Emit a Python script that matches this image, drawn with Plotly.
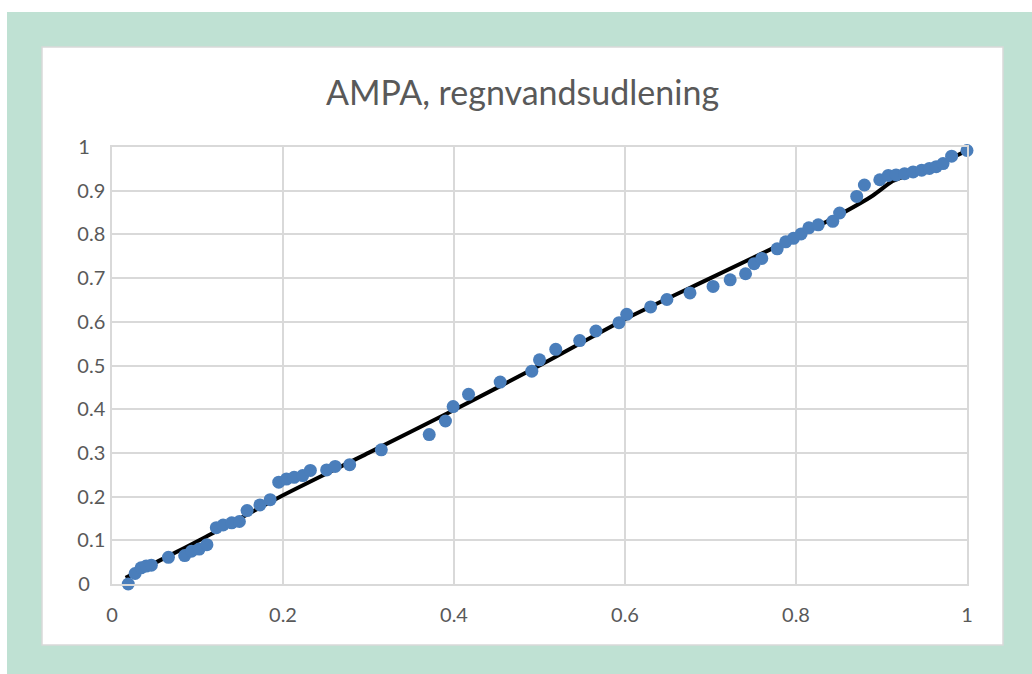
import plotly.graph_objects as go

# Empirical vs. fitted probability values (P-P plot)
observed_x = [0.019, 0.027, 0.034, 0.040, 0.046, 0.066, 0.085, 0.093, 0.102, 0.111,
              0.122, 0.130, 0.140, 0.149, 0.158, 0.173, 0.185, 0.195, 0.204, 0.213,
              0.223, 0.232, 0.251, 0.261, 0.278, 0.315, 0.371, 0.390, 0.399, 0.417,
              0.454, 0.491, 0.500, 0.519, 0.547, 0.566, 0.593, 0.602, 0.630, 0.649,
              0.676, 0.703, 0.723, 0.741, 0.751, 0.760, 0.778, 0.788, 0.797, 0.806,
              0.815, 0.826, 0.843, 0.851, 0.871, 0.880, 0.898, 0.908, 0.917, 0.927,
              0.937, 0.947, 0.956, 0.964, 0.972, 0.982, 1.000]
observed_y = [0.000, 0.024, 0.037, 0.041, 0.043, 0.061, 0.065, 0.075, 0.080, 0.090,
              0.129, 0.135, 0.140, 0.143, 0.168, 0.181, 0.193, 0.233, 0.240, 0.244,
              0.248, 0.260, 0.261, 0.269, 0.273, 0.307, 0.342, 0.373, 0.406, 0.434,
              0.462, 0.487, 0.513, 0.537, 0.557, 0.579, 0.598, 0.617, 0.634, 0.651,
              0.666, 0.681, 0.696, 0.710, 0.733, 0.745, 0.767, 0.783, 0.791, 0.801,
              0.815, 0.822, 0.830, 0.849, 0.887, 0.913, 0.925, 0.935, 0.936, 0.939,
              0.943, 0.947, 0.951, 0.955, 0.962, 0.979, 0.992]

# Reference curve
curve_x = [0.016, 0.06, 0.11, 0.20, 0.30, 0.40, 0.50, 0.60, 0.70, 0.80,
           0.85, 0.89, 0.913, 0.93, 0.968, 0.997]
curve_y = [0.014, 0.058, 0.108, 0.203, 0.300, 0.398, 0.500, 0.606, 0.700, 0.794,
           0.844, 0.889, 0.922, 0.935, 0.962, 0.989]

x_tick_vals = [0, 0.2, 0.4, 0.6, 0.8, 1]
x_tick_text = ["0", "0.2", "0.4", "0.6", "0.8", "1"]
y_tick_vals = [0, 0.1, 0.2, 0.3, 0.4, 0.5, 0.6, 0.7, 0.8, 0.9, 1]
y_tick_text = ["0", "0.1", "0.2", "0.3", "0.4", "0.5", "0.6", "0.7", "0.8", "0.9", "1"]

title_text = "AMPA, regnvandsudlening"

FONT = "Lato, 'Open Sans', sans-serif"
TEXT_COLOR = "#595959"
GRID = "#d9d9d9"
FRAME_GREEN = "#bfe1d3"

# pad the one-character labels so the y labels line up on their left edge
y_tick_labels = [t if len(t) > 1 else t + "\u00a0" * 3 for t in y_tick_text]

fig = go.Figure()

fig.add_trace(go.Scatter(
    x=curve_x, y=curve_y, mode="lines",
    line=dict(color="black", width=4, shape="spline", smoothing=0.6),
    hoverinfo="skip", showlegend=False,
))
fig.add_trace(go.Scatter(
    x=observed_x, y=observed_y, mode="markers",
    marker=dict(color="#4a7ebb", size=13, line=dict(width=0)),
    cliponaxis=False, showlegend=False,
))

W, H = 1032, 674
L, R, T, B = 112, 65, 147, 90
pw, ph = W - L - R, H - T - B


def px_x(p):
    return (p - L) / pw


def px_y(p):
    return (H - B - p) / ph


shapes = [
    # white strips along the top and left edges of the page
    dict(type="rect", xref="paper", yref="paper", layer="below",
         x0=px_x(-5), x1=px_x(W + 5), y0=px_y(12), y1=px_y(-5),
         fillcolor="white", line=dict(width=0)),
    dict(type="rect", xref="paper", yref="paper", layer="below",
         x0=px_x(-5), x1=px_x(7), y0=px_y(H + 5), y1=px_y(-5),
         fillcolor="white", line=dict(width=0)),
    # chart box
    dict(type="rect", xref="paper", yref="paper", layer="below",
         x0=px_x(42), x1=px_x(1003), y0=px_y(645), y1=px_y(47),
         fillcolor="white", line=dict(color="#d9d9d9", width=1.5)),
]

axis_common = dict(
    showgrid=True, gridcolor=GRID, gridwidth=1.5,
    zeroline=False, showline=True, linecolor=GRID, linewidth=1.5, mirror=True,
    ticks="", tickfont=dict(family=FONT, size=20, color=TEXT_COLOR),
    fixedrange=True,
)

fig.update_layout(
    width=W, height=H,
    margin=dict(l=L, r=R, t=T, b=B, pad=0),
    paper_bgcolor=FRAME_GREEN,
    plot_bgcolor="rgba(0,0,0,0)",
    shapes=shapes,
    title=dict(text=title_text, x=522.5 / W, xref="container", xanchor="center",
               y=1 - 93 / H, yref="container", yanchor="middle",
               font=dict(family=FONT, size=34, color=TEXT_COLOR)),
    xaxis=dict(range=[0, 1], tickvals=x_tick_vals, ticktext=x_tick_text,
               ticklabelstandoff=12, **axis_common),
    yaxis=dict(range=[0, 1], tickvals=y_tick_vals, ticktext=y_tick_labels,
               ticklabelstandoff=1, **axis_common),
    showlegend=False,
)

fig.write_html("out.html")
